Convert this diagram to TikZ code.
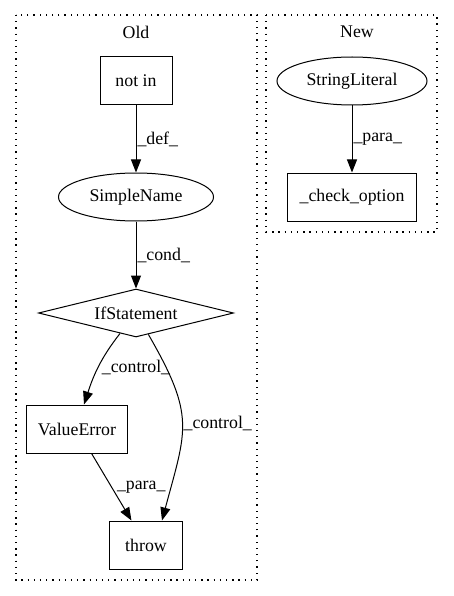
\documentclass[tikz,border=0pt]{standalone}
\usepackage{fontspec}
\setmainfont{Liberation Serif}
\usetikzlibrary{shapes.geometric,arrows.meta}
\begin{document}
\begin{tikzpicture}
[x=1pt,y=-1pt,
  font=\fontsize{17.8}{20}\selectfont,
  boxdecorate/.style={shape=rectangle,draw,line width=1pt,minimum height=48pt,inner sep=2pt},%
  ellipsedecorate/.style={shape=ellipse,draw,line width=1pt,minimum height=48pt,inner sep=1pt},%
  diamonddecorate/.style={shape=diamond,draw,line width=1pt,shape aspect=4,minimum width=195pt,minimum height=48pt,inner sep=1pt},%
  clusterdecorate/.style={draw,line width=1.3pt,dash pattern=on 1.3pt off 4.9pt},%
  linedecorate/.style={-{Triangle[length=13pt,width=10pt]},line width=1pt},%
  labeldecorate/.style={anchor=west,inner sep=1pt}]
\useasboundingbox (0,0) rectangle (453,596);
%%% cluster Old
\draw[clusterdecorate] (16,15) rectangle (257,580);
\node (old) at (136,32) {Old};
% nodes or vertices
\node (notin) at (136,81) [boxdecorate,minimum width=72pt] {not in};
\node (simple) at (136,197) [ellipsedecorate,minimum width=155pt] {SimpleName};
\node (ifst) at (136,313) [diamonddecorate] {IfStatement};
\node (valerr) at (77,429) [boxdecorate,minimum width=101pt] {ValueError};
\node (throw) at (146,545) [boxdecorate,minimum width=73pt] {throw};
% edges or lines
\path
(notin) edge[linedecorate] node[labeldecorate] {\_def\_} (simple)
(simple) edge[linedecorate] node[labeldecorate] {\_cond\_} (ifst)
(ifst) edge[linedecorate,out=-128,in=72] node[labeldecorate,xshift=2pt] {\_control\_} ([xshift=7pt]valerr.north)
(ifst) edge[linedecorate,out=-60,in=75,looseness=1.3] node[labeldecorate] {\_control\_} ([xshift=16pt]throw.north)
(valerr) edge[linedecorate] node[labeldecorate,xshift=4pt] {\_para\_} (throw);
%
%%% cluster New
\draw[clusterdecorate] (266,15) rectangle (437,232);
\node (new) at (357,32) {New};
% nodes or vertices
\node (strlit) at (352,81) [ellipsedecorate,minimum width=150pt] {StringLiteral};
\node (check) at (352,197) [boxdecorate,minimum width=129pt] {\_check\_option};
% edges or lines
\path
(strlit) edge[linedecorate] node[labeldecorate] {\_para\_} (check);
\end{tikzpicture}
\end{document}
